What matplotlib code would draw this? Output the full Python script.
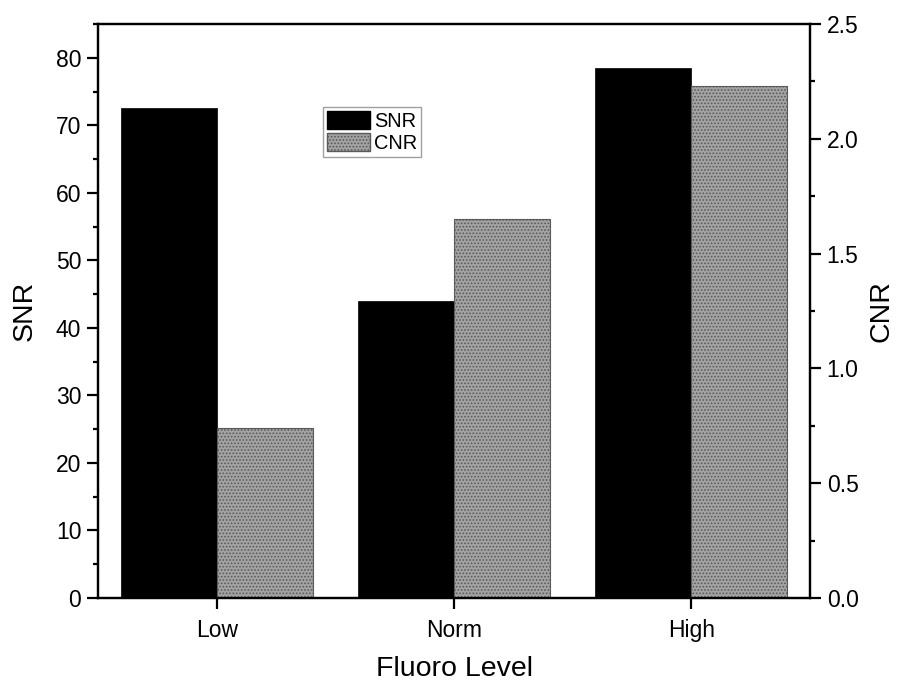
import matplotlib
matplotlib.use("Agg")
import matplotlib.pyplot as plt
import numpy as np
from matplotlib.ticker import MultipleLocator, FormatStrFormatter
from matplotlib.patches import Patch

plt.rcParams['font.family'] = ['Liberation Sans', 'DejaVu Sans']
plt.rcParams['hatch.color'] = '#6a6a6a'
plt.rcParams['hatch.linewidth'] = 0.8

categories = ["Low", "Norm", "High"]
snr_values = [72.6, 44.0, 78.5]
cnr_values = [0.74, 1.65, 2.23]

fig = plt.figure(figsize=(8.98, 6.85), dpi=100)
ax = fig.add_axes([98/898, 1-598/685, (810-98)/898, (598-24)/685])
ax2 = ax.twinx()

x = np.arange(1, len(categories) + 1)
w = 0.405
gray_face = '#a3a3a3'
ax.bar(x - w, snr_values, width=w, align='edge', color='black', edgecolor='black', linewidth=0.5)
ax2.bar(x, cnr_values, width=w, align='edge', color=gray_face, edgecolor='#5a5a5a', linewidth=0.8, hatch='.....')

ax.set_xlim(0.5, 3.5)
ax.set_ylim(0, 85)
ax2.set_ylim(0, 2.5)

ax.set_xticks(x)
ax.set_xticklabels(categories)
ax.yaxis.set_major_locator(MultipleLocator(10))
ax.yaxis.set_minor_locator(MultipleLocator(5))
ax2.yaxis.set_major_locator(MultipleLocator(0.5))
ax2.yaxis.set_minor_locator(MultipleLocator(0.25))
ax2.yaxis.set_major_formatter(FormatStrFormatter('%.1f'))

for a in (ax, ax2):
    for s in a.spines.values():
        s.set_linewidth(1.6)
        s.set_color('black')
    a.tick_params(which='major', direction='out', length=8, width=1.6, labelsize=16.5, pad=4)
    a.tick_params(which='minor', direction='out', length=3.5, width=1.6)
ax.tick_params(axis='x', pad=7)

ax.set_ylabel('SNR', fontsize=20.5, labelpad=13)
ax2.set_ylabel('CNR', fontsize=20.5, labelpad=7)
ax.set_xlabel('Fluoro Level', fontsize=20.5, labelpad=10)

handles = [Patch(facecolor='black', edgecolor='black'),
           Patch(facecolor=gray_face, edgecolor='#5a5a5a', hatch='.....')]
leg = ax2.legend(handles, ['SNR', 'CNR'], loc='upper left', bbox_to_anchor=(225/712, 491/574),
                 fontsize=14.4, frameon=True, fancybox=False, edgecolor='#888888',
                 handlelength=2.15, handleheight=1.0, handletextpad=0.2, borderpad=0.2,
                 labelspacing=0.12, borderaxespad=0)
leg.get_frame().set_linewidth(1.0)

fig.savefig('out.png', dpi=100)
